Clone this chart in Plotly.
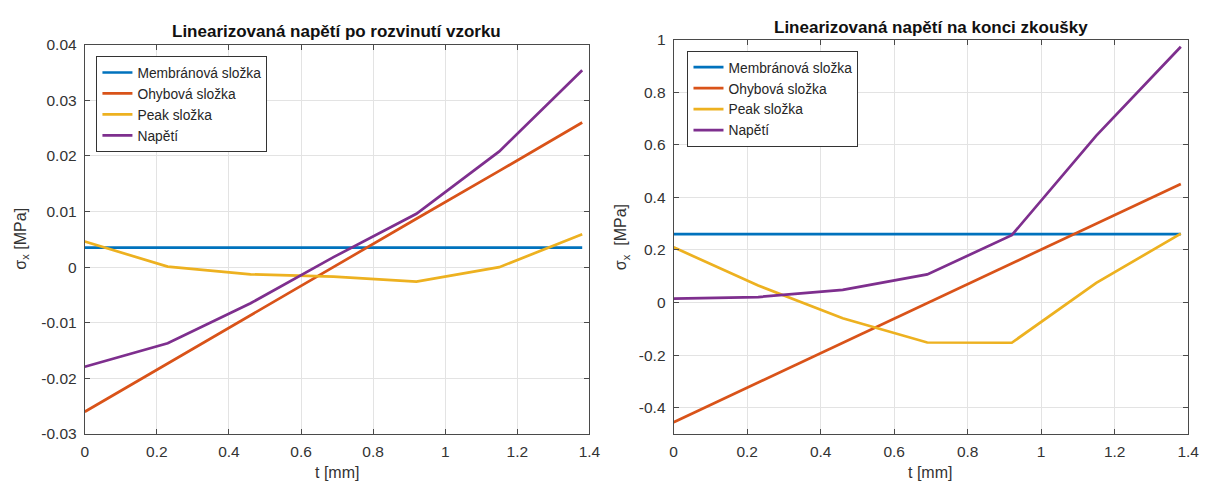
import plotly.graph_objects as go

# ---------------- data ----------------
t = [0.0, 0.23, 0.46, 0.69, 0.92, 1.15, 1.38]

membrane_L = [0.0035, 0.0035, 0.0035, 0.0035, 0.0035, 0.0035, 0.0035]
bending_L = [-0.026, -0.0173, -0.0087, 0.0, 0.0087, 0.0173, 0.026]
peak_L = [0.0046, 0.0001, -0.0013, -0.0017, -0.0026, 0.0000, 0.0059]
total_L = [-0.0179, -0.0137, -0.0065, 0.0018, 0.0096, 0.0208, 0.0354]

membrane_R = [0.26, 0.26, 0.26, 0.26, 0.26, 0.26, 0.26]
bending_R = [-0.455, -0.304, -0.152, -0.001, 0.149, 0.300, 0.451]
peak_R = [0.21, 0.065, -0.06, -0.152, -0.153, 0.075, 0.262]
total_R = [0.015, 0.021, 0.048, 0.107, 0.256, 0.635, 0.973]

series_names = ["Membránová složka", "Ohybová složka", "Peak složka", "Napětí"]
titles = ["Linearizovaná napětí po rozvinutí vzorku", "Linearizovaná napětí na konci zkoušky"]

x_tickvals = [0, 0.2, 0.4, 0.6, 0.8, 1.0, 1.2, 1.4]
x_ticktext = ["0", "0.2", "0.4", "0.6", "0.8", "1", "1.2", "1.4"]
yL_tickvals = [-0.03, -0.02, -0.01, 0, 0.01, 0.02, 0.03, 0.04]
yL_ticktext = ["-0.03", "-0.02", "-0.01", "0", "0.01", "0.02", "0.03", "0.04"]
yR_tickvals = [-0.4, -0.2, 0, 0.2, 0.4, 0.6, 0.8, 1.0]
yR_ticktext = ["-0.4", "-0.2", "0", "0.2", "0.4", "0.6", "0.8", "1"]

# ---------------- style ----------------
colors = ["#0072BD", "#D95319", "#EDB120", "#7E2F8E"]
FONT = "Liberation Sans, Arial, sans-serif"
AXC = "#4a4a4a"
GRIDC = "#e3e3e3"
# page body has an 8px margin; size the figure so the page fits the window exactly
OFF = 8
W, H = 1221 - 2 * OFF, 490 - 2 * OFF

def px_x(p):
    return (p - OFF) / W

def px_y(p):
    return 1 - (p - OFF) / H

fig = go.Figure()

left_series = [membrane_L, bending_L, peak_L, total_L]
right_series = [membrane_R, bending_R, peak_R, total_R]

for name, ys, c in zip(series_names, left_series, colors):
    fig.add_trace(go.Scatter(x=t, y=ys, mode="lines", name=name,
                             line=dict(color=c, width=2.7),
                             xaxis="x", yaxis="y", legend="legend"))
for name, ys, c in zip(series_names, right_series, colors):
    fig.add_trace(go.Scatter(x=t, y=ys, mode="lines", name=name,
                             line=dict(color=c, width=2.7),
                             xaxis="x2", yaxis="y2", legend="legend2"))

axis_common = dict(
    showgrid=True, gridcolor=GRIDC, gridwidth=1,
    showline=True, linecolor=AXC, linewidth=1, mirror="ticks",
    ticks="inside", ticklen=5, tickcolor=AXC, tickwidth=1,
    zeroline=False,
    tickfont=dict(family=FONT, size=15.5, color="#333333"),
)

fig.update_layout(
    width=W, height=H, autosize=False,
    margin=dict(l=0, r=0, t=0, b=0),
    paper_bgcolor="white", plot_bgcolor="white",
    font=dict(family=FONT, color="#262626"),
    xaxis=dict(domain=[px_x(81.7), px_x(592.7)], range=[0, 1.4], anchor="y",
               tickvals=x_tickvals, ticktext=x_ticktext, ticklabelstandoff=3, **axis_common),
    yaxis=dict(domain=[px_y(440.5), px_y(36.7)], range=[-0.03, 0.04], anchor="x",
               tickvals=yL_tickvals, ticktext=yL_ticktext, ticklabelstandoff=4, **axis_common),
    xaxis2=dict(domain=[px_x(678), px_x(1199)], range=[0, 1.4], anchor="y2",
                tickvals=x_tickvals, ticktext=x_ticktext, ticklabelstandoff=3, **axis_common),
    yaxis2=dict(domain=[px_y(440.5), px_y(31.5)], range=[-0.5, 1.0], anchor="x2",
                tickvals=yR_tickvals, ticktext=yR_ticktext, ticklabelstandoff=4, **axis_common),
    legend=dict(x=px_x(93.5), y=px_y(48.5), xanchor="left", yanchor="top",
                bgcolor="white", bordercolor="#333333", borderwidth=1,
                font=dict(family=FONT, size=13.8, color="#262626"),
                tracegroupgap=0, itemwidth=30),
    legend2=dict(x=px_x(692), y=px_y(43), xanchor="left", yanchor="top",
                 bgcolor="white", bordercolor="#333333", borderwidth=1,
                 font=dict(family=FONT, size=13.8, color="#262626"),
                 tracegroupgap=0, itemwidth=30),
    showlegend=True,
)

annotations = [
    dict(text="<b>" + titles[0] + "</b>", x=px_x(337), y=px_y(23), xref="paper", yref="paper",
         showarrow=False, font=dict(family=FONT, size=17, color="#111111"),
         xanchor="center", yanchor="middle"),
    dict(text="<b>" + titles[1] + "</b>", x=px_x(939), y=px_y(19), xref="paper", yref="paper",
         showarrow=False, font=dict(family=FONT, size=17, color="#111111"),
         xanchor="center", yanchor="middle"),
    dict(text="t [mm]", x=px_x(337), y=px_y(480), xref="paper", yref="paper",
         showarrow=False, font=dict(family=FONT, size=16, color="#333333"),
         xanchor="center", yanchor="middle"),
    dict(text="t [mm]", x=px_x(938), y=px_y(480), xref="paper", yref="paper",
         showarrow=False, font=dict(family=FONT, size=16, color="#333333"),
         xanchor="center", yanchor="middle"),
    dict(text="σ<sub>x</sub> [MPa]", x=px_x(18), y=px_y(238), xref="paper", yref="paper",
         showarrow=False, textangle=-90, font=dict(family=FONT, size=16, color="#333333"),
         xanchor="center", yanchor="middle"),
    dict(text="σ<sub>x</sub>  [MPa]", x=px_x(626), y=px_y(236), xref="paper", yref="paper",
         showarrow=False, textangle=-90, font=dict(family=FONT, size=16, color="#333333"),
         xanchor="center", yanchor="middle"),
]
fig.update_layout(annotations=annotations)

fig.write_html("out.html")
